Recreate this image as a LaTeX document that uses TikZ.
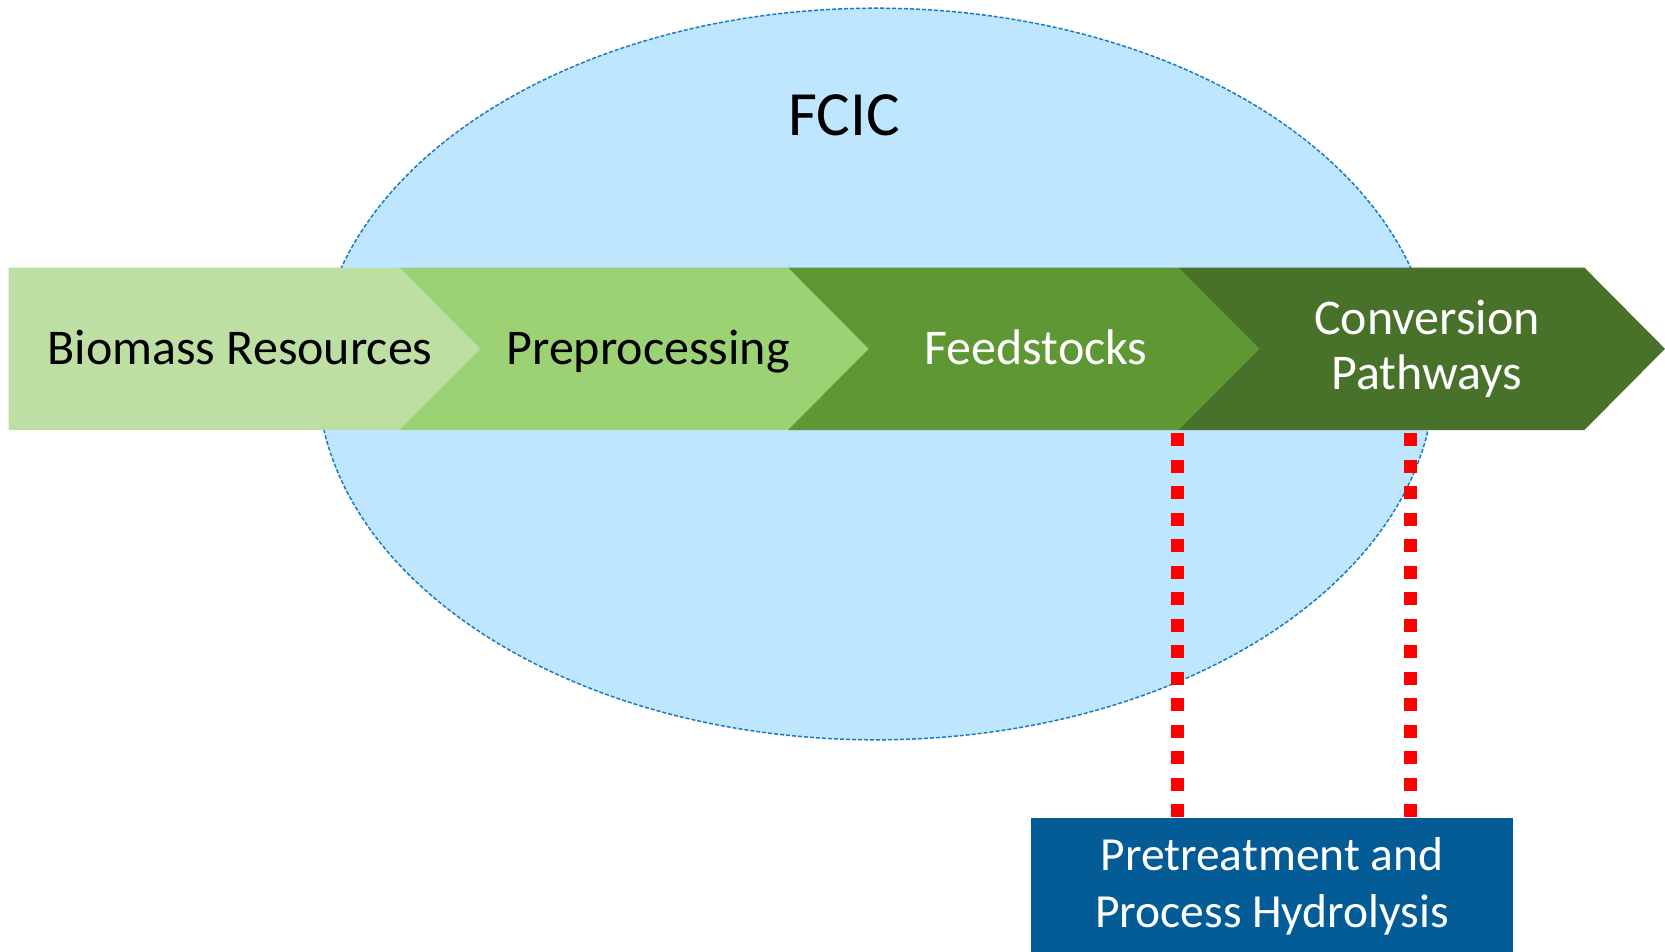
\documentclass[tikz,border=0pt]{standalone}
\usepackage{fontspec}
\setmainfont{Carlito}
\definecolor{ellfill}{HTML}{BFE6FF}
\definecolor{elldraw}{HTML}{1A7AC8}
\definecolor{gA}{HTML}{BDDFA3}
\definecolor{gB}{HTML}{9CD174}
\definecolor{gC}{HTML}{5F9734}
\definecolor{gD}{HTML}{48712A}
\definecolor{boxblue}{HTML}{035C96}
\definecolor{dotred}{HTML}{FF0000}
\begin{document}
\begin{tikzpicture}[x=1pt,y=-1pt,
  barlabel/.style={font=\fontsize{50}{55}\selectfont, align=center, inner sep=0pt},
  reddots/.style={draw=dotred, line width=13pt, dash pattern=on 13pt off 13.5pt},
  bluebox/.style={fill=boxblue, text=white, align=center, inner sep=0pt,
     minimum width=482pt, minimum height=150pt, anchor=north west,
     font=\fontsize{47.5}{57}\selectfont}]
\useasboundingbox (0,0) rectangle (1665,951);
% FCIC ellipse
\fill[ellfill] (876,374) ellipse [x radius=558.6pt, y radius=365.8pt];
\draw[elldraw, line width=1.5pt, dash pattern=on 4pt off 2pt] (876,374) ellipse [x radius=558.6pt, y radius=365.8pt];
\node[font=\fontsize{63}{70}\selectfont, inner sep=0pt] (fcic) at (844,115) {FCIC};
% chevrons drawn right to left
\fill[gD] (1178.7,267.6) -- (1584.4,267.6) -- (1665,348.8) -- (1584.4,430) -- (1178.7,430) -- cycle;
\fill[gC] (787.9,267.6) -- (1178.7,267.6) -- (1259.5,348.8) -- (1178.7,430) -- (787.9,430) -- cycle;
\fill[gB] (399.3,267.6) -- (787.9,267.6) -- (868.7,348.8) -- (787.9,430) -- (399.3,430) -- cycle;
\fill[gA] (8.5,267.6) -- (399.3,267.6) -- (480.1,348.8) -- (399.3,430) -- (8.5,430) -- cycle;
\node[barlabel, text=black, anchor=base] (bio) at (240,364) {Biomass Resources};
\node[barlabel, text=black, anchor=base] (pre) at (648,364) {Preprocessing};
\node[barlabel, text=white, anchor=base] (feed) at (1036,364) {Feedstocks};
\node[barlabel, text=white] (conv) at (1427,348.8) {Conversion\\Pathways};
% box
\node[bluebox] (pph) at (1031,818) {};
\node[font=\fontsize{47.5}{57}\selectfont, text=white, align=center, inner sep=0pt] (pphtext) at (1272,886) {Pretreatment and\\Process Hydrolysis};
% red dotted lines
\coordinate (r1top) at (1177.6,433);
\coordinate (r2top) at (1410,433);
\draw[reddots] (r1top) -- (r1top |- pph.north);
\draw[reddots] (r2top) -- (r2top |- pph.north);
\end{tikzpicture}
\end{document}
